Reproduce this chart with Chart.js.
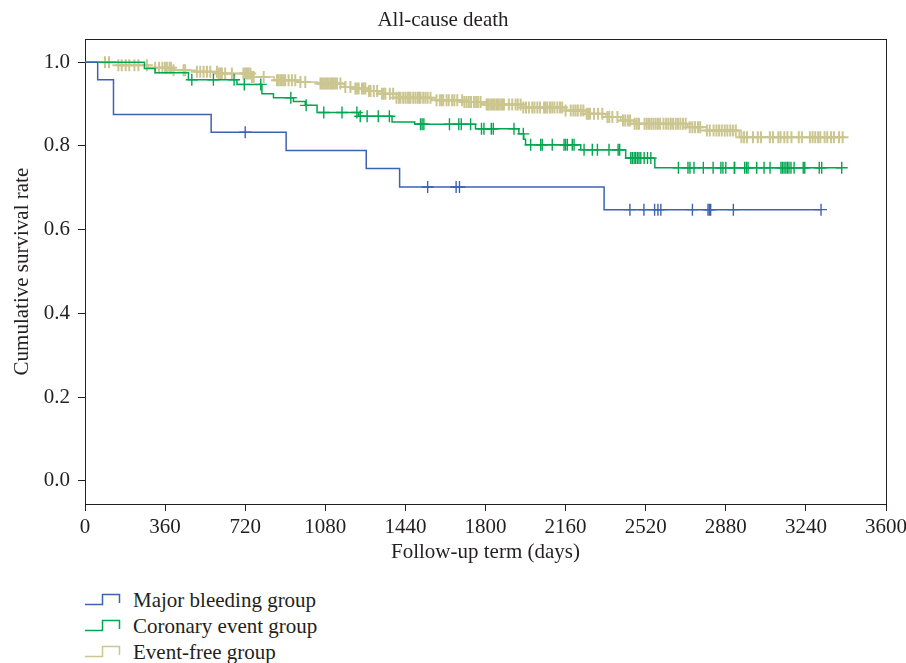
<!DOCTYPE html>
<html>
<head>
<meta charset="utf-8">
<script src="https://cdn.jsdelivr.net/npm/chart.js@4.4.1/dist/chart.umd.min.js"></script>
<style>
  body { margin: 0; background: #fff; }
  #wrap { position: relative; width: 906px; height: 663px; }
  #box { position: absolute; left: 0; top: 0; width: 906px; height: 570px; }
  #legend { position: absolute; left: 85px; top: 587px; font: 21px 'Liberation Serif', 'DejaVu Serif', serif; color: #231f20; }
  .row { height: 26px; display: flex; align-items: center; }
  .row svg { margin-right: 12px; }
</style>
</head>
<body>
<div id="wrap">
  <div id="box"><canvas id="km"></canvas></div>
  <div id="legend"></div>
</div>
<script>
// Kaplan-Meier, all-cause death.
const FONT = "'Liberation Serif', 'DejaVu Serif', serif";
const INK = '#231f20';

const xTicks = [0, 360, 720, 1080, 1440, 1800, 2160, 2520, 2880, 3240, 3600];
const yTicks = [0, 0.2, 0.4, 0.6, 0.8, 1.0];

const groupLabels = ['Major bleeding group', 'Coronary event group', 'Event-free group'];
const groupColors = ['#3b63b2', '#00a650', '#cbc58f'];
const censorWidths = [1.4, 1.4, 2];

// Major bleeding group: event times (days) / survival after each step
const bleedTimes = [0, 57, 128, 567, 904, 1264, 1414, 2333];
const bleedSurv = [1, 0.958, 0.875, 0.833, 0.789, 0.746, 0.702, 0.648];
const bleedEnd = 3308;
const bleedCensor = [720, 1540, 1668, 1683, 2449, 2512, 2560, 2575, 2588, 2730, 2800, 2806, 2812, 2914, 3308];

// Coronary event group
const coronTimes = [0, 267, 315, 465, 683, 795, 847, 937, 990, 1043, 1230, 1380, 1482, 1755, 1950, 1972, 1980, 2228, 2430, 2561];
const coronSurv = [1, 0.985, 0.975, 0.958, 0.947, 0.925, 0.915, 0.906, 0.897, 0.88, 0.871, 0.857, 0.852, 0.841, 0.829, 0.816, 0.803, 0.791, 0.771, 0.748];
const coronEnd = 3401;
const coronCensor = [480, 577, 670, 716, 790, 925, 994, 1073, 1155, 1222, 1237, 1268, 1318, 1368, 1508, 1515, 1523,
  1638, 1680, 1691, 1733, 1782, 1793, 1826, 1835, 1928, 1970, 2003, 2048, 2055, 2100, 2153, 2160, 2168, 2190, 2198,
  2243, 2280, 2303, 2355, 2396, 2403, 2453, 2460, 2468, 2475, 2483, 2490, 2498, 2513, 2528, 2543, 2667, 2710, 2719,
  2737, 2779, 2823, 2858, 2867, 2880, 2918, 2920, 2965, 2973, 2980, 3019, 3052, 3079, 3128, 3135, 3142, 3150, 3157,
  3164, 3173, 3187, 3228, 3235, 3300, 3311, 3401];

// Event-free group
const freeTimes = [0, 150, 284, 392, 495, 600, 745, 850, 950, 1045, 1165, 1215, 1265, 1320, 1400, 1555, 1700, 1780,
  1960, 2160, 2255, 2340, 2408, 2466, 2709, 2795, 2940];
const freeSurv = [1, 0.993, 0.987, 0.981, 0.977, 0.973, 0.965, 0.957, 0.953, 0.949, 0.941, 0.937, 0.931, 0.925, 0.915,
  0.909, 0.905, 0.899, 0.892, 0.885, 0.877, 0.869, 0.861, 0.853, 0.845, 0.837, 0.821];
const freeEnd = 3405;
const freeCensor = [90, 108, 150, 165, 183, 199, 222, 240, 278, 315, 333, 348, 360, 368, 380, 387, 398, 443, 450, 503,
  518, 533, 548, 563, 593, 600, 608, 615, 630, 660, 712, 720, 728, 735, 743, 750, 758, 803, 863, 870, 878, 885, 893,
  900, 915, 930, 945, 968, 990, 1058, 1065, 1073, 1080, 1088, 1095, 1103, 1110, 1118, 1125, 1133, 1148, 1170, 1193,
  1215, 1222, 1230, 1245, 1253, 1260, 1276, 1283, 1298, 1313,
  1335, 1342, 1350, 1370, 1385, 1400, 1411, 1418, 1430, 1440, 1450, 1457, 1463, 1475, 1485, 1495, 1502, 1508, 1520,
  1530, 1540, 1553, 1580, 1595, 1603, 1610, 1625, 1635, 1650, 1660, 1673, 1695, 1705, 1715, 1725, 1735, 1748, 1758,
  1767, 1778, 1805, 1810, 1815, 1825, 1832, 1838, 1848, 1855, 1860, 1870, 1877, 1883, 1905, 1920, 1935, 1945, 1958,
  1970, 1982, 1995, 2010, 2020, 2033, 2045, 2063, 2070, 2078, 2090, 2100, 2110, 2123, 2135, 2145, 2160, 2183, 2195,
  2205, 2215, 2228, 2240, 2255, 2262, 2270, 2288, 2306, 2325, 2348, 2356, 2370, 2393,
  2418, 2428, 2440, 2450, 2470, 2480, 2490, 2515, 2525, 2535, 2545, 2555, 2565, 2575, 2585, 2600, 2612, 2622, 2633,
  2643, 2655, 2665, 2676, 2688, 2700, 2718, 2730, 2742, 2755, 2765, 2795, 2808, 2825, 2838, 2850, 2862, 2875, 2887,
  2900, 2912, 2925, 2950, 2962, 2975, 3002, 3024, 3038, 3078, 3092, 3116, 3126, 3143, 3157, 3175, 3208, 3222, 3258,
  3270, 3282, 3295, 3305, 3324, 3336, 3353, 3366, 3389, 3405];

// step curve: each point is (event time, survival after it); stepped draws flat-then-drop
function curve(times, surv, end) {
  const pts = times.map((t, i) => ({ x: t, y: surv[i] }));
  pts.push({ x: end, y: surv[surv.length - 1] });
  return pts;
}
// censor ticks sit on the curve level in force at that time
function censorPts(times, surv, cens) {
  return cens.map((c) => {
    let s = surv[0];
    times.forEach((t, i) => { if (t <= c) s = surv[i]; });
    return { x: c, y: s };
  });
}

function group(i, times, surv, end, cens) {
  const color = groupColors[i];
  return [
    { label: groupLabels[i], data: curve(times, surv, end), showLine: true, stepped: true,
      borderColor: color, borderWidth: 1.5, pointRadius: 0, fill: false },
    { label: groupLabels[i] + ' (censored)', data: censorPts(times, surv, cens), showLine: false,
      pointStyle: 'cross', pointRadius: 6, pointBorderColor: color, pointBackgroundColor: color,
      pointBorderWidth: censorWidths[i] },
  ];
}

// index 0 is drawn last (on top)
const datasets = [
  ...group(0, bleedTimes, bleedSurv, bleedEnd, bleedCensor),
  ...group(1, coronTimes, coronSurv, coronEnd, coronCensor),
  ...group(2, freeTimes, freeSurv, freeEnd, freeCensor),
];

const frame = {
  id: 'frame',
  beforeDatasetsDraw(chart) {
    const { ctx, chartArea: a } = chart;
    ctx.save();
    ctx.strokeStyle = INK;
    ctx.lineWidth = 1;
    ctx.strokeRect(Math.round(a.left) + 0.5, Math.round(a.top) + 0.5,
      Math.round(a.right - a.left), Math.round(a.bottom - a.top));
    ctx.restore();
  },
};

const tickFont = { family: FONT, size: 21 };

new Chart(document.getElementById('km'), {
  type: 'scatter',
  data: { datasets },
  plugins: [frame],
  options: {
    responsive: true,
    maintainAspectRatio: false,
    animation: false,
    events: [],
    layout: { padding: { left: 0, right: 20, top: 0, bottom: 0 } },
    plugins: {
      legend: { display: false },
      tooltip: { enabled: false },
      title: { display: true, text: 'All-cause death', color: INK,
               font: { family: FONT, size: 21, weight: 'normal' }, padding: { top: 8, bottom: 6 } },
    },
    scales: {
      x: {
        type: 'linear', min: 0, max: 3600,
        afterBuildTicks: (s) => { s.ticks = xTicks.map((v) => ({ value: v })); },
        // fixed band height; let the last label hang into the right padding
        afterFit: (s) => { s.height = 66; s.paddingRight = 0; },
        grid: { drawOnChartArea: false, drawTicks: true, tickLength: 7, color: INK },
        border: { display: true, color: INK, width: 1 },
        ticks: { font: tickFont, color: INK, padding: 4, maxRotation: 0, autoSkip: false,
                 callback: (v) => String(v) },
        title: { display: true, text: 'Follow-up term (days)', color: INK, font: tickFont,
                 padding: { top: 0, bottom: 5 } },
      },
      y: {
        type: 'linear', min: -0.055, max: 1.055,
        afterBuildTicks: (s) => { s.ticks = yTicks.map((v) => ({ value: v })); },
        afterFit: (s) => { s.width = 85; },
        grid: { drawOnChartArea: false, drawTicks: true, tickLength: 7, color: INK },
        border: { display: true, color: INK, width: 1 },
        ticks: { font: tickFont, color: INK, padding: 8, callback: (v) => Number(v).toFixed(1) },
        title: { display: true, text: 'Cumulative survival rate', color: INK, font: tickFont,
                 padding: { top: 10, bottom: 0 } },
      },
    },
  },
});

// legend with KM step-shaped keys
const legend = document.getElementById('legend');
groupLabels.forEach((label, i) => {
  const row = document.createElement('div');
  row.className = 'row';
  row.innerHTML = `<svg width="36" height="14"><path d="M0 11.5 H17.5 V1.5 H34.5 V10" fill="none" stroke="${groupColors[i]}" stroke-width="1.5"/></svg><span>${label}</span>`;
  legend.appendChild(row);
});
</script>
</body>
</html>
